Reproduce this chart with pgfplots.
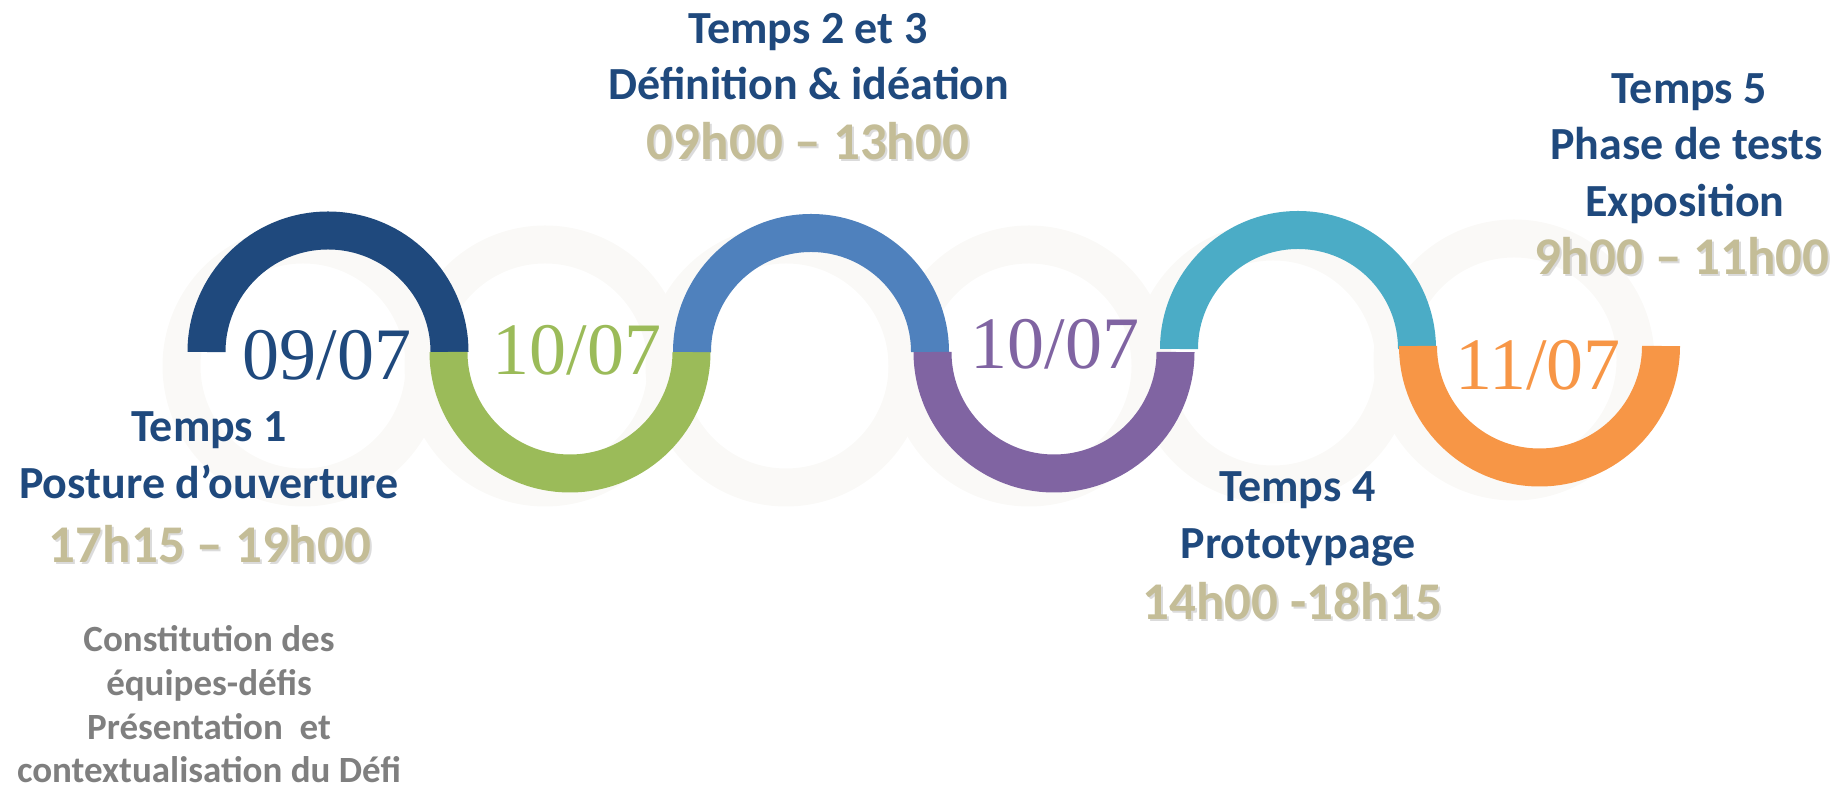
\documentclass[border=0pt]{standalone}
\usepackage{pgfplots}
\pgfplotsset{compat=1.18}
\usepackage{fontspec}
\setmainfont{Carlito}
\newfontfamily\datefont{Liberation Serif}
\definecolor{dblue}{HTML}{1F497D}
\definecolor{agreen}{HTML}{9BBB59}
\definecolor{ablue}{HTML}{4F81BD}
\definecolor{apurple}{HTML}{8064A2}
\definecolor{acyan}{HTML}{4BACC6}
\definecolor{aorange}{HTML}{F79646}
\definecolor{gold}{HTML}{C4BD97}
\definecolor{tgray}{HTML}{7F7F7F}
\definecolor{faint}{HTML}{FAF9F7}
\newcommand{\headf}{\fontsize{23pt}{28pt}\selectfont\bfseries}
\newcommand{\timef}{\fontsize{26.5pt}{30pt}\selectfont\bfseries}
\newcommand{\descf}{\fontsize{18.5pt}{22pt}\selectfont\bfseries}
\newcommand{\datef}{\datefont\fontsize{37pt}{40pt}\selectfont}
\begin{document}
\begin{tikzpicture}
\begin{axis}[at={(0pt,0pt)}, anchor=south west,
  width=921pt, height=395.5pt, scale only axis,
  xmin=0, xmax=1842, ymin=0, ymax=791, hide axis, clip=false]
% faint background rings
\draw[faint, line width=19pt] (axis cs:303,425) circle[radius=60.75pt];
\draw[faint, line width=19pt] (axis cs:545,425) circle[radius=60.75pt];
\draw[faint, line width=19pt] (axis cs:786,425) circle[radius=60.75pt];
\draw[faint, line width=19pt] (axis cs:1029,425) circle[radius=60.75pt];
\draw[faint, line width=19pt] (axis cs:1273,428) circle[radius=60.75pt];
\draw[faint, line width=19pt] (axis cs:1514,431) circle[radius=60.75pt];
% coloured arcs
\draw[dblue, line width=19pt] (axis cs:206.5,439) arc[start angle=180, end angle=0, radius=60.75pt];
\draw[agreen, line width=19pt] (axis cs:448.5,439) arc[start angle=180, end angle=360, radius=60.75pt];
\draw[ablue, line width=19pt] (axis cs:692,439) arc[start angle=180, end angle=0, radius=59.5pt];
\draw[apurple, line width=19pt] (axis cs:932.5,439) arc[start angle=180, end angle=360, radius=60.75pt];
\draw[acyan, line width=19pt] (axis cs:1179,442) arc[start angle=180, end angle=0, radius=59.5pt];
\draw[aorange, line width=19pt] (axis cs:1418,445) arc[start angle=180, end angle=360, radius=60.75pt];
% dates
\node[anchor=base, text=dblue, inner sep=0pt] at (axis cs:327,411) {\datef 09/07};
\node[anchor=base, text=agreen, inner sep=0pt] at (axis cs:577,416) {\datef 10/07};
\node[anchor=base, text=apurple, inner sep=0pt] at (axis cs:1055,422.7) {\datef 10/07};
\node[anchor=base, text=aorange, inner sep=0pt] at (axis cs:1538,401) {\datef 11/07};
% block 1
\node[anchor=base, text=dblue, inner sep=0pt] at (axis cs:209,349.3) {\headf Temps 1};
\node[anchor=base, text=dblue, inner sep=0pt] at (axis cs:209,292.7) {\headf Posture d’ouverture};
\node[anchor=base, text=black!35, opacity=0.4, inner sep=0pt] at ([xshift=1pt,yshift=-1pt]axis cs:210,228.3) {\timef 17h15 – 19h00};
\node[anchor=base, text=gold, inner sep=0pt] at (axis cs:210,228.3) {\timef 17h15 – 19h00};
\node[anchor=base, text=tgray, inner sep=0pt] at (axis cs:209,139) {\descf Constitution des};
\node[anchor=base, text=tgray, inner sep=0pt] at (axis cs:209,95) {\descf équipes-défis};
\node[anchor=base, text=tgray, inner sep=0pt] at (axis cs:209,51) {\descf Présentation\ \ et};
\node[anchor=base, text=tgray, inner sep=0pt] at (axis cs:209,8) {\descf contextualisation du Défi};
% block 2
\node[anchor=base, text=dblue, inner sep=0pt] at (axis cs:808,747.7) {\headf Temps 2 et 3};
\node[anchor=base, text=dblue, inner sep=0pt] at (axis cs:809,691) {\headf Définition \& idéation};
\node[anchor=base, text=black!35, opacity=0.4, inner sep=0pt] at ([xshift=1pt,yshift=-1pt]axis cs:808,631) {\timef 09h00 – 13h00};
\node[anchor=base, text=gold, inner sep=0pt] at (axis cs:808,631) {\timef 09h00 – 13h00};
% block 4
\node[anchor=base, text=dblue, inner sep=0pt] at (axis cs:1297.5,289.3) {\headf Temps 4};
\node[anchor=base, text=dblue, inner sep=0pt] at (axis cs:1298,232.7) {\headf Prototypage};
\node[anchor=base, text=black!35, opacity=0.4, inner sep=0pt] at ([xshift=1pt,yshift=-1pt]axis cs:1292.5,171) {\timef 14h00 -18h15};
\node[anchor=base, text=gold, inner sep=0pt] at (axis cs:1292.5,171) {\timef 14h00 -18h15};
% block 5
\node[anchor=base, text=dblue, inner sep=0pt] at (axis cs:1689,687.7) {\headf Temps 5};
\node[anchor=base, text=dblue, inner sep=0pt] at (axis cs:1686.7,631) {\headf Phase de tests};
\node[anchor=base, text=dblue, inner sep=0pt] at (axis cs:1685,574.3) {\headf Exposition};
\node[anchor=base, text=black!35, opacity=0.4, inner sep=0pt] at ([xshift=1pt,yshift=-1pt]axis cs:1681.7,516) {\timef 9h00 – 11h00};
\node[anchor=base, text=gold, inner sep=0pt] at (axis cs:1681.7,516) {\timef 9h00 – 11h00};
\end{axis}
\pgfresetboundingbox
\path (0pt,0pt) rectangle (921pt,395.5pt);
\end{tikzpicture}
\end{document}
